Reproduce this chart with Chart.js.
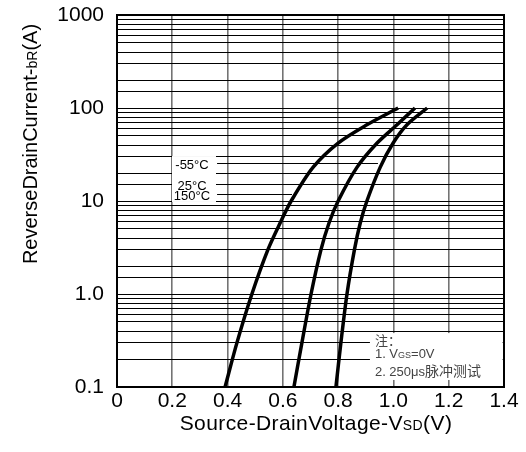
<!DOCTYPE html>
<html>
<head>
<meta charset="utf-8">
<script src="https://cdn.jsdelivr.net/npm/chart.js@4.4.1/dist/chart.umd.min.js"></script>
<style>
  html, body { margin: 0; padding: 0; background: #fff; }
  #wrap { width: 526px; height: 452px; position: relative; }
</style>
</head>
<body>
<div id="wrap"><canvas id="chart"></canvas></div>
<script>
// reverse drain current (A), same levels read for each curve
const currentA = [0.1, 0.3, 1, 3, 5.8, 10, 23, 42, 66, 100];
// source-drain voltage (V) for each temperature
const vsd150 = [0.391, 0.434, 0.488, 0.546, 0.590, 0.630, 0.709, 0.800, 0.904, 1.017];
const vsd25 = [0.640, 0.669, 0.702, 0.738, 0.767, 0.800, 0.868, 0.941, 1.013, 1.078];
const vsdMinus55 = [0.792, 0.810, 0.832, 0.859, 0.880, 0.904, 0.952, 0.999, 1.049, 1.122];

const xTickValues = [0, 0.2, 0.4, 0.6, 0.8, 1.0, 1.2, 1.4];
const xTickLabels = ['0', '0.2', '0.4', '0.6', '0.8', '1.0', '1.2', '1.4'];
const yDecades = [0.1, 1, 10, 100, 1000];
const yDecadeLabels = ['0.1', '1.0', '10', '100', '1000'];

// temperature labels with leader lines (current level, end voltage)
const tempLabels = ['-55°C', '25°C', '150°C'];
const leaderCurrent = [25.6, 15.2, 11.9];
const leaderEndV = [0.944, 0.814, 0.633];
const leaderStartV = 0.362;

function toPoints(xs, ys) {
    return xs.map((x, i) => ({ x: x, y: ys[i] }));
}

function curve(label, xs) {
    return {
        label: label,
        data: toPoints(xs, currentA),
        borderColor: '#000',
        borderWidth: 3.5,
        pointRadius: 0,
        showLine: true,
        fill: false,
        tension: 0.3,
    };
}

// draws text runs with different sizes on one baseline
function drawRuns(ctx, runs, x, y) {
    let cx = x;
    runs.forEach(r => {
        ctx.font = r.font;
        ctx.fillText(r.text, cx, y);
        cx += ctx.measureText(r.text).width + (r.gap || 0);
    });
    return cx - x;
}

function runsWidth(ctx, runs) {
    let w = 0;
    runs.forEach(r => {
        ctx.font = r.font;
        w += ctx.measureText(r.text).width + (r.gap || 0);
    });
    return w;
}

const sans = '"Liberation Sans", Arial, sans-serif';

const decorations = {
    id: 'decorations',
    beforeDatasetsDraw(chart) {
        const ctx = chart.ctx;
        const xs = chart.scales.x, ys = chart.scales.y;
        ctx.save();
        // white boxes covering the grid behind the notes
        ctx.fillStyle = '#fff';
        const ly0 = ys.getPixelForValue(leaderCurrent[0]) - 7;
        const ly1 = ys.getPixelForValue(leaderCurrent[2]) + 8;
        ctx.fillRect(172, ly0, 44, ly1 - ly0);
        const bx0 = xs.getPixelForValue(0.915), bx1 = xs.getPixelForValue(1.395);
        const by0 = ys.getPixelForValue(0.38), by1 = ys.getPixelForValue(0.119);
        ctx.fillRect(bx0, by0, bx1 - bx0, by1 - by0);
        ctx.restore();
    },
    afterDraw(chart) {
        const ctx = chart.ctx;
        const a = chart.chartArea;
        const xs = chart.scales.x, ys = chart.scales.y;
        ctx.save();

        // leader lines and temperature labels
        ctx.strokeStyle = '#000';
        ctx.lineWidth = 1.2;
        ctx.fillStyle = '#000';
        ctx.textAlign = 'center';
        ctx.textBaseline = 'middle';
        ctx.font = '13px ' + sans;
        tempLabels.forEach((t, i) => {
            const py = Math.round(ys.getPixelForValue(leaderCurrent[i])) + 0.5;
            ctx.beginPath();
            ctx.moveTo(xs.getPixelForValue(leaderStartV), py);
            ctx.lineTo(xs.getPixelForValue(leaderEndV[i]), py);
            ctx.stroke();
            ctx.fillText(t, 192, py + 2);
        });

        // note box text
        ctx.textAlign = 'left';
        ctx.textBaseline = 'alphabetic';
        ctx.fillStyle = '#444';
        const cjk = '"Noto Sans CJK SC", sans-serif';
        const nx = xs.getPixelForValue(0.933);
        drawRuns(ctx, [{ text: '注：', font: '13px ' + cjk }], nx, 345);
        drawRuns(ctx, [
            { text: '1. V', font: '13px ' + sans },
            { text: 'GS', font: '9px ' + sans },
            { text: '=0V', font: '13px ' + sans },
        ], nx, 358);
        drawRuns(ctx, [
            { text: '2. 250μs', font: '13px ' + sans },
            { text: '脉冲测试', font: '14px ' + cjk },
        ], nx, 376);

        // plot frame
        ctx.strokeStyle = '#000';
        ctx.lineWidth = 2;
        ctx.strokeRect(a.left, a.top, a.right - a.left, a.bottom - a.top);

        // axis titles
        ctx.fillStyle = '#000';
        ctx.letterSpacing = '0.4px';
        const xTitle = [
            { text: 'Source-Drain', font: '21px ' + sans },
            { text: 'Voltage-V', font: '21px ' + sans },
            { text: 'SD', font: '14px ' + sans },
            { text: '(V)', font: '21px ' + sans },
        ];
        const xw = runsWidth(ctx, xTitle);
        drawRuns(ctx, xTitle, 316 - xw / 2, 430);

        ctx.letterSpacing = '0px';
        const yTitle = [
            { text: 'ReverseDrainCurrent-', font: '20px ' + sans },
            { text: 'bR', font: '14px ' + sans },
            { text: '(A)', font: '20px ' + sans },
        ];
        const yw = runsWidth(ctx, yTitle);
        ctx.translate(37, 144);
        ctx.rotate(-Math.PI / 2);
        drawRuns(ctx, yTitle, -yw / 2, 0);
        ctx.restore();
    }
};

const config = {
    type: 'scatter',
    data: {
        datasets: [
            curve('-55°C', vsdMinus55),
            curve('25°C', vsd25),
            curve('150°C', vsd150),
        ]
    },
    options: {
        responsive: true,
        maintainAspectRatio: false,
        animation: false,
        layout: {
            padding: { left: 0, right: 22, top: 15, bottom: 0 }
        },
        scales: {
            x: {
                type: 'linear',
                min: 0,
                max: 1.4,
                afterFit: (scale) => {
                    scale.height = 65;
                    scale.paddingLeft = 0;
                    scale.paddingRight = 0;
                },
                afterBuildTicks: (scale) => {
                    scale.ticks = xTickValues.map(v => ({ value: v }));
                },
                ticks: {
                    padding: 2,
                    color: '#000',
                    font: { family: sans, size: 21 },
                    callback: (value) => {
                        const i = xTickValues.findIndex(v => Math.abs(v - value) < 1e-6);
                        return i >= 0 ? xTickLabels[i] : '';
                    }
                },
                grid: {
                    color: 'rgba(0,0,0,0.55)',
                    lineWidth: 1.6,
                    drawTicks: false,
                },
                border: { display: false }
            },
            y: {
                type: 'logarithmic',
                min: 0.1,
                max: 1000,
                afterFit: (scale) => {
                    scale.width = 117;
                    scale.paddingTop = 0;
                    scale.paddingBottom = 0;
                },
                ticks: {
                    autoSkip: false,
                    padding: 13,
                    color: '#000',
                    font: { family: sans, size: 21 },
                    callback: (value) => {
                        const i = yDecades.findIndex(v => Math.abs(Math.log10(v) - Math.log10(value)) < 1e-6);
                        return i >= 0 ? yDecadeLabels[i] : '';
                    }
                },
                grid: {
                    color: '#000',
                    lineWidth: 1,
                    drawTicks: false,
                },
                border: { display: false }
            }
        },
        plugins: {
            legend: { display: false },
            tooltip: { enabled: false }
        }
    },
    plugins: [decorations]
};

const ctx = document.getElementById('chart').getContext('2d');
const chart = new Chart(ctx, config);
</script>
</body>
</html>
